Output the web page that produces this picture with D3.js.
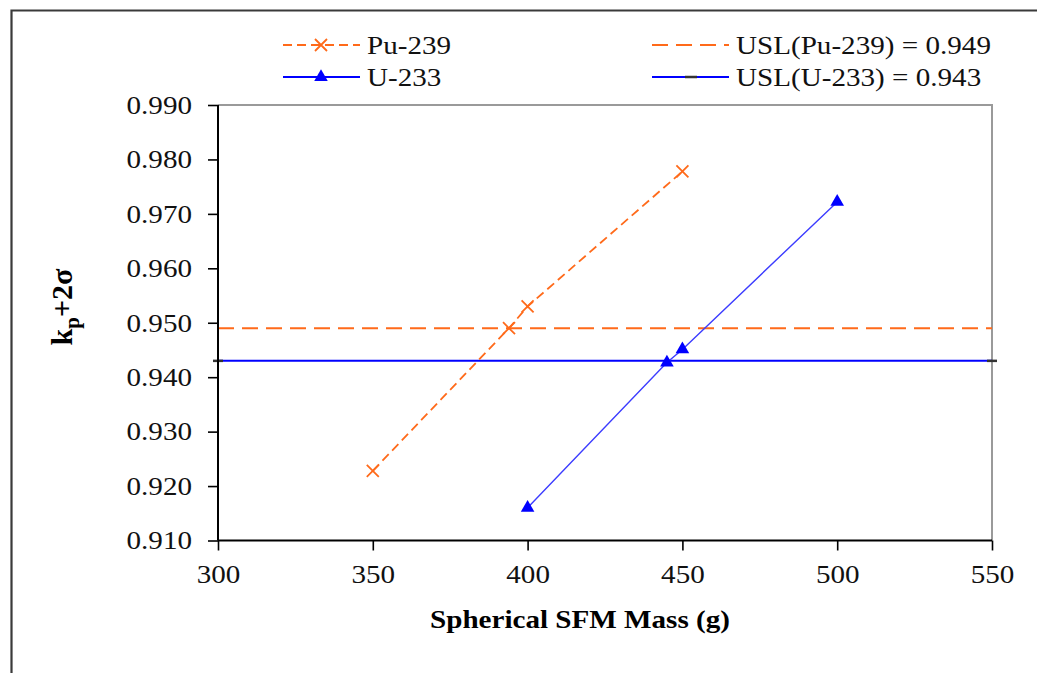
<!DOCTYPE html>
<html>
<head>
<meta charset="utf-8">
<script src="https://cdn.jsdelivr.net/npm/d3@7"></script>
<style>
  body { margin: 0; background: #fff; }
  text { font-family: "Liberation Serif", "Times New Roman", serif; }
</style>
</head>
<body>
<div id="chart"></div>
<script>
// values
const massPu = [350, 394, 400, 450];
const kPu = [0.9228, 0.9490, 0.9530, 0.9778];
const massU = [400, 445, 450, 500];
const kU = [0.9160, 0.9427, 0.9451, 0.9722];
const uslX = [300, 550];
const uslPu = 0.949, uslU = 0.943;
const xTicks = [300, 350, 400, 450, 500, 550];
const yTicks = [0.910, 0.920, 0.930, 0.940, 0.950, 0.960, 0.970, 0.980, 0.990];
const legendNames = ["Pu-239", "U-233", "USL(Pu-239) = 0.949", "USL(U-233) = 0.943"];

const col = { orange: "#ff6a1a", blue: "#0000ff", blueLine: "#3c3cff", frame: "#3a3a3a", box: "#9a9a9a" };
const width = 1037, height = 673;
const sx = 1.12; // the picture is a bit stretched sideways

const x = d3.scaleLinear().domain([300, 550]).range([218, 992]);
const y = d3.scaleLinear().domain([0.910, 0.990]).range([540.5, 105]);

const svg = d3.select("#chart").append("svg")
    .attr("width", width).attr("height", height);

// outer frame
svg.append("path")
    .attr("d", `M11.5,${height} V10.5 H${width}`)
    .attr("fill", "none").attr("stroke", col.frame).attr("stroke-width", 2.2);

// plot box (top + right in gray)
svg.append("path")
    .attr("d", `M${x(300)},${y(0.990)} H${x(550)} V${y(0.910)}`)
    .attr("fill", "none").attr("stroke", col.box).attr("stroke-width", 2);

const line = d3.line().x(d => x(d[0])).y(d => y(d[1]));
const g = svg.append("g");

// USL lines
g.append("path").datum(uslX.map(m => [m, uslPu]))
    .attr("d", line).attr("fill", "none")
    .attr("stroke", col.orange).attr("stroke-width", 2)
    .attr("stroke-dasharray", "16,8");
g.append("path").datum(uslX.map(m => [m, uslU]))
    .attr("d", line).attr("fill", "none")
    .attr("stroke", col.blue).attr("stroke-width", 2);
g.selectAll(".uslmark").data(uslX).enter().append("line")
    .attr("x1", d => x(d) - 5).attr("x2", d => x(d) + 5)
    .attr("y1", y(uslU)).attr("y2", y(uslU))
    .attr("stroke", "#333").attr("stroke-width", 2.5);

// series
const pu = massPu.map((m, i) => [m, kPu[i]]);
const u = massU.map((m, i) => [m, kU[i]]);

g.append("path").datum(pu).attr("d", line).attr("fill", "none")
    .attr("stroke", col.orange).attr("stroke-width", 1.8)
    .attr("stroke-dasharray", "9,5");
g.append("path").datum(u).attr("d", line).attr("fill", "none")
    .attr("stroke", col.blueLine).attr("stroke-width", 1.4);

const cross = "M-6,-6L6,6M-6,6L6,-6";
const tri = d3.symbol(d3.symbolTriangle, 80)();

g.selectAll(".xm").data(pu).enter().append("path")
    .attr("transform", d => `translate(${x(d[0])},${y(d[1])})`)
    .attr("d", cross).attr("stroke", col.orange).attr("stroke-width", 1.8).attr("fill", "none");
g.selectAll(".tm").data(u).enter().append("path")
    .attr("transform", d => `translate(${x(d[0])},${y(d[1])})`)
    .attr("d", tri).attr("fill", col.blue);

// axes
const yAxis = svg.append("g").attr("transform", `translate(${x(300)},0)`)
    .call(d3.axisLeft(y).tickValues(yTicks).tickSize(10).tickPadding(13.2)
        .tickFormat(d3.format(".3f")));
const xAxis = svg.append("g").attr("transform", `translate(0,${y(0.910)})`)
    .call(d3.axisBottom(x).tickValues(xTicks).tickSize(10).tickPadding(14));

[yAxis, xAxis].forEach(a => {
    a.select(".domain").attr("stroke", "#000").attr("stroke-width", 2);
    a.selectAll(".tick line").attr("stroke", "#000").attr("stroke-width", 1.6);
    a.selectAll("text").attr("font-size", 26).attr("fill", "#111")
        .attr("font-family", "Liberation Serif");
});
yAxis.selectAll("text").attr("transform", `scale(${sx},1)`);
xAxis.selectAll("text").attr("transform", `scale(${sx},1)`)
    .attr("x", 0).attr("dy", "0.71em");
xAxis.select(".domain").attr("d", `M${x(300)},0H${x(550)}`);
yAxis.select(".domain").attr("d", `M0,${y(0.910)}V${y(0.990)}`);

// axis titles
svg.append("text")
    .attr("transform", `translate(580,628) scale(${sx},1)`)
    .attr("text-anchor", "middle").attr("font-size", 26).attr("font-weight", "bold")
    .text("Spherical SFM Mass (g)");

const yl = svg.append("text")
    .attr("transform", "translate(72,307) rotate(-90)")
    .attr("text-anchor", "middle").attr("font-size", 30).attr("font-weight", "bold");
yl.append("tspan").text("k");
yl.append("tspan").text("p").attr("font-size", 21).attr("dy", 7);
yl.append("tspan").text("+2σ").attr("dy", -7);

// legend
const legendRows = [
    { name: legendNames[0], x0: 283, y0: 45, color: col.orange, dash: "9,5", mark: "cross" },
    { name: legendNames[1], x0: 283, y0: 77, color: col.blue, dash: null, mark: "tri" },
    { name: legendNames[2], x0: 652, y0: 45, color: col.orange, dash: "16,8", mark: null },
    { name: legendNames[3], x0: 652, y0: 77, color: col.blue, dash: null, mark: "bar" }
];
const lg = svg.append("g").selectAll("g").data(legendRows).enter().append("g")
    .attr("transform", d => `translate(${d.x0},${d.y0})`);
lg.append("line").attr("x1", 0).attr("x2", 77)
    .attr("stroke", d => d.color).attr("stroke-width", 2)
    .attr("stroke-dasharray", d => d.dash);
lg.filter(d => d.mark === "cross").append("path")
    .attr("transform", "translate(38,0)").attr("d", cross)
    .attr("stroke", col.orange).attr("stroke-width", 1.8).attr("fill", "none");
lg.filter(d => d.mark === "tri").append("path")
    .attr("transform", "translate(38,0)").attr("d", tri).attr("fill", col.blue);
lg.filter(d => d.mark === "bar").append("line")
    .attr("x1", 33).attr("x2", 45).attr("stroke", "#333").attr("stroke-width", 2.5);
lg.append("text")
    .attr("transform", `translate(${84},0) scale(${sx},1)`)
    .attr("dy", "0.35em").attr("font-size", 26).attr("fill", "#111")
    .text(d => d.name);
</script>
</body>
</html>
